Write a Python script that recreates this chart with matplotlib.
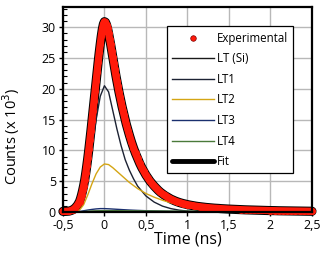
import matplotlib
matplotlib.use("Agg")
import matplotlib.pyplot as plt
from matplotlib.ticker import MultipleLocator

plt.rcParams['font.family'] = ['Open Sans', 'DejaVu Sans']

# Experimental data (time in ns, counts x 10^3)
t_exp = [-0.5, -0.475, -0.45, -0.425, -0.4, -0.375, -0.35, -0.325, -0.3, -0.2875, -0.275, -0.2625,
         -0.25, -0.2375, -0.225, -0.2125, -0.2, -0.1875, -0.175, -0.1625, -0.15, -0.1375, -0.125,
         -0.1125, -0.1, -0.0875, -0.075, -0.0625, -0.05, -0.0375, -0.025, -0.0125, 0.0, 0.0125,
         0.025, 0.0375, 0.05, 0.0625, 0.075, 0.0875, 0.1, 0.1125, 0.125, 0.1375, 0.15, 0.1625,
         0.175, 0.1875, 0.2, 0.2125, 0.225, 0.2375, 0.25, 0.2625, 0.275, 0.2875, 0.3, 0.325, 0.35,
         0.375, 0.4, 0.425, 0.45, 0.475, 0.5, 0.525, 0.55, 0.575, 0.6, 0.625, 0.65, 0.675, 0.7,
         0.725, 0.75, 0.775, 0.8, 0.825, 0.85, 0.875, 0.9, 0.925, 0.95, 0.975, 1.0, 1.025, 1.05,
         1.075, 1.1, 1.125, 1.15, 1.175, 1.2, 1.225, 1.25, 1.275, 1.3, 1.325, 1.35, 1.375, 1.4,
         1.425, 1.45, 1.475, 1.5, 1.55, 1.6, 1.65, 1.7, 1.75, 1.8, 1.85, 1.9, 1.95, 2.0, 2.05,
         2.1, 2.15, 2.2, 2.25, 2.3, 2.35, 2.4, 2.45, 2.5]
y_exp = [0.1, 0.1, 0.12, 0.15, 0.25, 0.4, 0.7, 1.1, 1.7, 2.2, 2.8, 3.5,
         4.3, 5.2, 6.3, 7.5, 8.8, 10.2, 11.7, 13.2, 14.8, 16.4, 18.0,
         19.6, 21.2, 22.8, 24.4, 25.9, 27.3, 28.6, 29.7, 30.5, 30.9, 30.8,
         30.4, 29.8, 29.0, 28.1, 27.2, 26.2, 25.2, 24.2, 23.2, 22.2, 21.3, 20.4,
         19.5, 18.7, 17.9, 17.1, 16.4, 15.7, 15.0, 14.3, 13.7, 13.1, 12.5, 11.4, 10.4,
         9.5, 8.7, 7.9, 7.2, 6.6, 6.0, 5.5, 5.0, 4.6, 4.2, 3.85, 3.5, 3.2, 2.95,
         2.7, 2.5, 2.3, 2.1, 1.95, 1.8, 1.67, 1.55, 1.45, 1.36, 1.28, 1.2, 1.13, 1.07,
         1.01, 0.95, 0.9, 0.86, 0.82, 0.78, 0.74, 0.71, 0.68, 0.65, 0.62, 0.6, 0.58, 0.55,
         0.53, 0.51, 0.49, 0.47, 0.44, 0.41, 0.38, 0.35, 0.33, 0.31, 0.29, 0.27, 0.25, 0.23, 0.22,
         0.2, 0.19, 0.18, 0.17, 0.16, 0.15, 0.14, 0.13, 0.12]

# Components
t_comp = [-0.5, -0.4, -0.35, -0.3, -0.25, -0.2, -0.15, -0.1, -0.05, 0.0, 0.05, 0.1, 0.15, 0.2,
          0.25, 0.3, 0.35, 0.4, 0.5, 0.6, 0.7, 0.8, 0.9, 1.0, 1.1, 1.2, 1.3, 1.4, 1.5, 1.75,
          2.0, 2.25, 2.5]
y_lt1 = [0.0, 0.05, 0.3, 1.0, 2.8, 6.0, 10.5, 15.0, 18.8, 20.5, 19.5, 16.5, 13.5, 10.8,
         8.5, 6.8, 5.4, 4.2, 2.6, 1.6, 0.95, 0.55, 0.3, 0.15, 0.08, 0.05, 0.03, 0.02, 0.01, 0.0,
         0.0, 0.0, 0.0]
y_lt2 = [0.0, 0.0, 0.05, 0.3, 1.2, 2.8, 4.6, 6.2, 7.3, 7.8, 7.7, 7.2, 6.6, 6.0,
         5.4, 4.8, 4.3, 3.8, 3.0, 2.4, 1.9, 1.5, 1.15, 0.9, 0.65, 0.45, 0.3, 0.2, 0.12, 0.05,
         0.02, 0.01, 0.0]
y_lt3 = [0.0, 0.0, 0.02, 0.08, 0.2, 0.32, 0.42, 0.5, 0.55, 0.55, 0.52, 0.48, 0.44, 0.4,
         0.36, 0.32, 0.29, 0.26, 0.21, 0.17, 0.13, 0.1, 0.08, 0.06, 0.04, 0.03, 0.02, 0.01, 0.01, 0.0,
         0.0, 0.0, 0.0]
y_lt4 = [0.0, 0.0, 0.01, 0.03, 0.07, 0.12, 0.16, 0.19, 0.21, 0.22, 0.22, 0.22, 0.21, 0.21,
         0.2, 0.2, 0.19, 0.19, 0.18, 0.17, 0.16, 0.15, 0.14, 0.13, 0.12, 0.11, 0.1, 0.09, 0.08, 0.06,
         0.05, 0.04, 0.03]
y_ltsi = [0.0, 0.0, 0.0, 0.01, 0.03, 0.06, 0.09, 0.11, 0.12, 0.12, 0.11, 0.1, 0.09, 0.08,
          0.07, 0.06, 0.05, 0.04, 0.03, 0.02, 0.01, 0.01, 0.0, 0.0, 0.0, 0.0, 0.0, 0.0, 0.0, 0.0,
          0.0, 0.0, 0.0]

x_ticks = [-0.5, 0, 0.5, 1, 1.5, 2, 2.5]
x_ticklabels = ['-0,5', '0', '0,5', '1', '1,5', '2', '2,5']
y_ticks = [0, 5, 10, 15, 20, 25, 30]

fig = plt.figure(figsize=(3.26, 2.65), dpi=100)
ax = fig.add_axes([0.193, 0.2, 0.764, 0.774])

ax.plot(t_exp, y_exp, color='black', lw=6.6, label='Fit', zorder=2,
        solid_capstyle='round', clip_on=False)
ax.plot(t_comp, y_ltsi, color='#1a1a1a', lw=1.0, label='LT (Si)', zorder=3)
ax.plot(t_comp, y_lt1, color='#1c2233', lw=1.0, label='LT1', zorder=3)
ax.plot(t_comp, y_lt2, color='#d4a514', lw=1.0, label='LT2', zorder=3)
ax.plot(t_comp, y_lt3, color='#1a2f6e', lw=1.0, label='LT3', zorder=3)
ax.plot(t_comp, y_lt4, color='#4a7a3a', lw=1.0, label='LT4', zorder=3)
ax.plot(t_exp, y_exp, '-', color='#ff1a0a', lw=5.2, zorder=4, clip_on=False,
        solid_capstyle='round', solid_joinstyle='round')
ax.plot(t_exp, y_exp, 'o', color='#ff1a0a', ms=5.0, mew=0, label='Experimental',
        zorder=4, clip_on=False)

ax.set_xlim(-0.5, 2.5)
ax.set_ylim(0, 33.3)
ax.set_xticks(x_ticks)
ax.set_xticklabels(x_ticklabels)
ax.set_yticks(y_ticks)
ax.yaxis.set_minor_locator(MultipleLocator(1))
ax.grid(True, which='major', color='#b8b8b8', lw=1.0)
ax.set_axisbelow(True)
for s in ax.spines.values():
    s.set_linewidth(1.6)
    s.set_color('black')
    s.set_zorder(5)
ax.tick_params(axis='both', which='major', labelsize=9, length=3, width=1, direction='out', pad=2)
ax.tick_params(axis='y', which='minor', length=3, width=0.8, direction='in')
ax.set_xlabel('Time (ns)', fontsize=11.5, labelpad=0)
ax.set_ylabel('Counts (x 10$^3$)', fontsize=10.5)
ax.yaxis.set_label_coords(-0.165, 0.37)

handles, labels = ax.get_legend_handles_labels()
order = ['Experimental', 'LT (Si)', 'LT1', 'LT2', 'LT3', 'LT4', 'Fit']
hmap = dict(zip(labels, handles))
leg = ax.legend([hmap[k] for k in order], order, loc='upper left',
                bbox_to_anchor=(0.418, 0.905), fontsize=8.3, frameon=True, fancybox=False,
                edgecolor='black', framealpha=1, handlelength=3.6, handletextpad=0.25,
                labelspacing=0.66, borderpad=0.45, borderaxespad=0)
leg.get_frame().set_linewidth(0.9)
for ln in leg.get_lines():
    if ln.get_label() == 'Fit':
        ln.set_linewidth(3.5)
    if ln.get_marker() == 'o':
        ln.set_markersize(4)
        ln.set_markeredgecolor('#7a0000')
        ln.set_markeredgewidth(0.5)

fig.savefig('out.png', dpi=100)
